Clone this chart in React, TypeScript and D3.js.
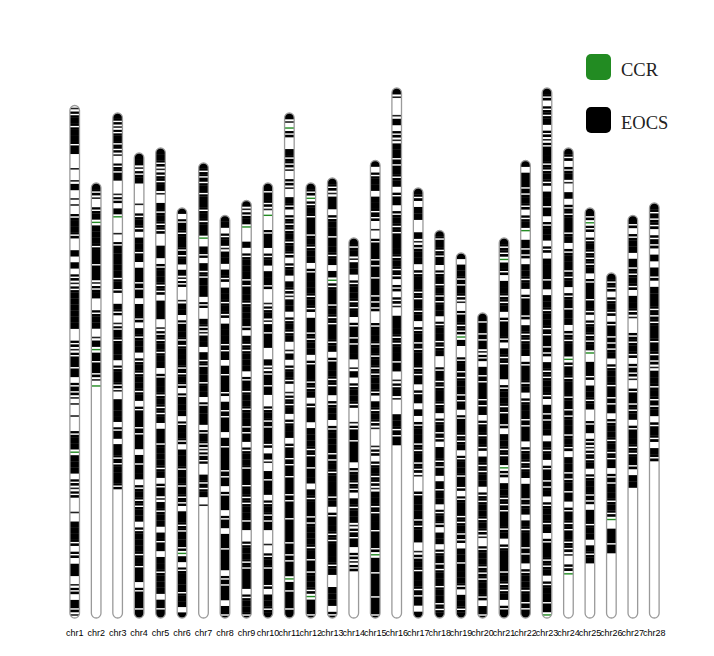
import * as d3 from "d3";

// chromosome names, lengths (Mb) and extent of the scanned region (Mb from top)
const chrNames = Array.from({ length: 28 }, (_, i) => `chr${i + 1}`);
const chrLength = [205, 174, 202, 186, 188, 164, 182, 161, 167, 174, 202, 174, 176, 152, 183, 212, 172, 155, 146, 122, 152, 183, 212, 188, 164, 138, 161, 166];
const bandEnd = [205, 82.4, 150.4, 186, 188, 164, 138, 161, 167, 174, 202, 174, 176, 133.2, 183, 142.8, 172, 155, 146, 122, 152, 183, 212, 171.6, 144.4, 112, 108.8, 103.2];

// band codes, top to bottom: # EOCS block, : EOCS with gap, - thin EOCS line, g CCR line, . empty
const bands = [
  "-:#:##:#..-.-#.--.:##:..#.#.:-:######..:-:#:#.::--.-..:##g###.:-:..-.###:.:.##.-:.#:-",
  "#:-.:#g###:##:##-:#..:##.-#g#:#:-g",
  "#:-:#::-.::#..-:.#g..-.:#####:#:..#:.-:#:###.:##:-.####.:#.##::###:",
  "##-:#...-.:#:.##:#.##::#.##:.#:##.:#:##:#.:##::##.#:##.:#::##.:###:#:##.:##:#",
  "##:-::#-.#:#::..##.:##::.###.-::#:##.:##:#::#.##:###:#.:#-#:##.#:#.##:###.#:#",
  "#.:#:##::#.#-:..-##.:##::###::#:.:###.:##:.###:##:#::.##::##:g#.:###:##.#",
  "#:::#:##:#:##g.#:.#::###.:..#:-##.#::##:##.:###.:#:-::..#::#.-",
  "##.:#-##.#:.##:#:.###::#.#:##:.#::##.#:###::#.:##.:#.##:###.::##.#:",
  "#-:#g..#.:###::##:###:.#::###.:#:##:##::#.:##:##:#::##:#..:##::###.:##:",
  "#:#:-g..:##.:#.##:..-:#-#:##..#-:#:#..:#::##:.#-.#:##.:#::#..-.:#:##:.##:#",
  "#-g:..#::-.:-.#:.:::#:#:.:#.#:-##.:#:#.-#.:#:.-::#.:##.:#::#:##::##:###:#::##g#:##:#",
  "#:g:#:##:#:##.:###:#:.##::##.:##::#.:##.###::#:##.#:##::###:#:#:##:g##:",
  "#:-##.:##:##:#.#g:##:#::##:#.:##::#.:##.:###::#:###:#.:##::###:#..###.:",
  "#:#-##.:##::#.:#::##.-#.:##:..-:#:###.:#::.#:##-::#.:-:",
  "#.:##.##::.-.:##::#:##:::..:##:#:#::##:.#:#:-..-:.:#::-##::##:##:g##:###:##:",
  "#-..-#.:-##::#:#.:#.:#::###:#::.:.:-.###::##:#.-:#-..##::#",
  "#:.##..#-:##.:##::#:#.:#::##::#.:#.#.:##::#::-..:###::##.-:#:##::#.#",
  "#:#::#.:#:#::##.:##::#..:#::##:#.:#::.##::#.#:##.:#:.##.:#::##:##::#",
  "#.##::#:-.:#::g#..:#::##::#.:##::#.:##:#:.:##::#::.##:###:.##:#",
  "#:#::#-:.#::##::#.:#:#:.#::##.::##:#:-.:##:::##:.#:",
  "#::g#:.##::#.:##:.#::##.:##::#:.##::#g:.##:::##:#.:###:#::#.:#",
  "#.##::#:.:#g.#::.##:#.:##:.#::##.:##:#.:##::##.:#::#.##::#.#:##::#.:##:#::#",
  "#:.::#.:-:##::#:.##:#.:##.:.###:#.##:##::#::.#::##:.#::##.#:#.:#::#.:##:#.:##::#.:##:#g",
  "#:.:#-.#.::##:#.:##::#.:#:##.::##g:#:##:#::##:#:.##::#:#.:#::#::-.:g",
  "#:g:.:#:::#.:##:#:.:#::#g.##:.##:#..:#.:-::#.:##::.##:##.#:#.",
  "#::.:#:.:#:::#.:##:#::#.:##:#::#.::##:#:g.##:#",
  "#:.:##.#::#:.##:-..::#:.::-.:#::#.:##::#:.##",
  "#:::.::.#.#:.###:::##:#::-##:#::#.:#:.#:",
];

const legendItems = ["CCR", "EOCS"];
const legendColors = ["#228b22", "#000000"];

const W = 714;
const H = 656;
const bottom = 618;
const chrWidth = 9.6;

export default function App() {
  const x = d3.scalePoint<string>().domain(chrNames).range([74.7, 654.3]);
  const maxLen = d3.max(chrLength) as number;
  const px = d3.scaleLinear().domain([0, maxLen]).range([0, maxLen * 2.5]);

  const chroms = chrNames.map((name, i) => {
    const len = chrLength[i];
    const top = bottom - px(len);
    const y = (mb: number) => top + px(mb);
    const codes = bands[i].split("");
    const step = bandEnd[i] / codes.length;
    return { name, i, len, top, y, codes, step };
  });

  return (
    <svg width={W} height={H} style={{ display: "block", position: "absolute", left: 0, top: 0 }}>
      <rect width={W} height={H} fill="#fff" />
      <defs>
        {chroms.map((c) => (
          <clipPath id={`clip-${c.name}`} key={c.name}>
            <rect
              x={(x(c.name) as number) - chrWidth / 2}
              y={c.top}
              width={chrWidth}
              height={bottom - c.top}
              rx={chrWidth / 2}
            />
          </clipPath>
        ))}
      </defs>
      {chroms.map((c) => {
        const cx = x(c.name) as number;
        const x0 = cx - chrWidth / 2;
        return (
          <g key={c.name}>
            <rect x={x0} y={c.top} width={chrWidth} height={bottom - c.top} rx={chrWidth / 2} fill="#fff" />
            <g clipPath={`url(#clip-${c.name})`}>
              {c.codes.map((code, k) => {
                const y0 = c.y(k * c.step);
                const y1 = c.y((k + 1) * c.step);
                const h = y1 - y0;
                const mid = (y0 + y1) / 2;
                if (code === "#") return <rect key={k} x={x0} y={y0} width={chrWidth} height={h + 0.3} fill="#000" />;
                if (code === ":")
                  return (
                    <g key={k}>
                      <rect x={x0} y={y0} width={chrWidth} height={h + 0.3} fill="#000" />
                      <rect x={x0} y={mid - 0.7} width={chrWidth} height={1.4} fill="#fff" />
                    </g>
                  );
                if (code === "-") return <rect key={k} x={x0} y={mid - 0.8} width={chrWidth} height={1.6} fill="#222" />;
                if (code === "g") return <rect key={k} x={x0} y={mid - 0.7} width={chrWidth} height={1.4} fill="#228b22" />;
                return null;
              })}
            </g>
            <rect
              x={x0}
              y={c.top}
              width={chrWidth}
              height={bottom - c.top}
              rx={chrWidth / 2}
              fill="none"
              stroke="#9a9a9a"
              strokeWidth={1.3}
            />
            <text
              x={cx}
              y={636}
              textAnchor="middle"
              fontFamily="Liberation Sans, Arial, sans-serif"
              fontSize={9}
              fill="#000"
            >
              {c.name}
            </text>
          </g>
        );
      })}
      {legendItems.map((label, i) => (
        <g key={label} transform={`translate(586,${54 + i * 53})`}>
          <rect width={25} height={26} rx={5} fill={legendColors[i]} />
          <text x={35} y={21.5} fontFamily="Liberation Serif, Times New Roman, serif" fontSize={18.5} fill="#222">
            {label}
          </text>
        </g>
      ))}
    </svg>
  );
}
